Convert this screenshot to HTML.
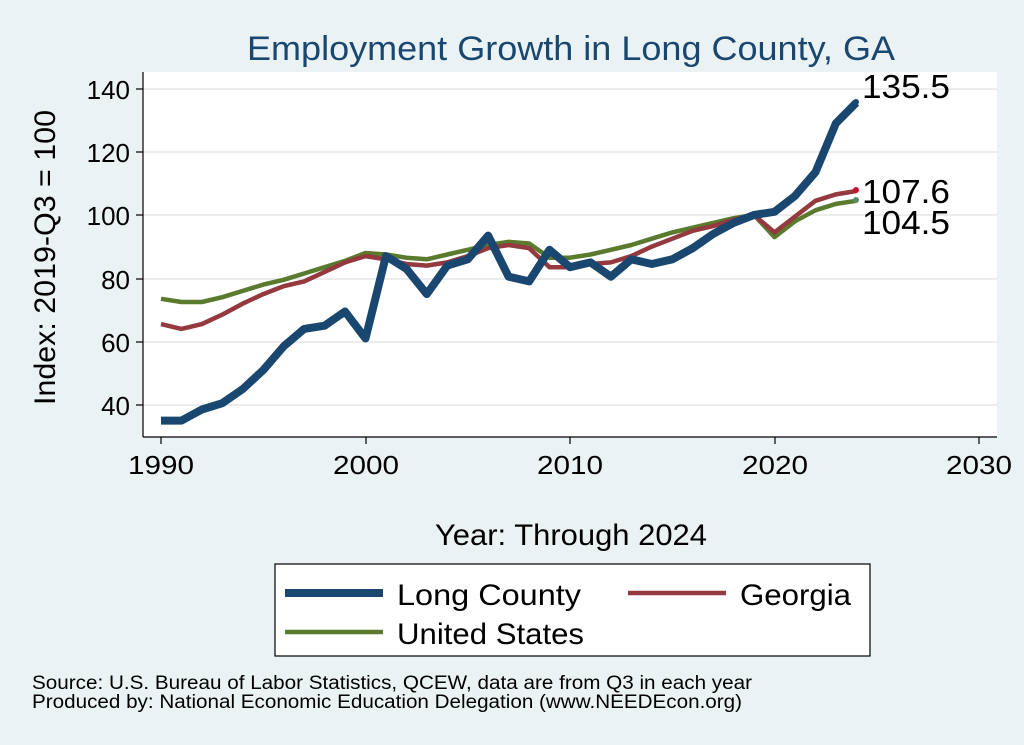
<!DOCTYPE html>
<html><head><meta charset="utf-8"><style>
html,body{margin:0;padding:0;background:#eaf2f3;}
svg{display:block;font-family:"Liberation Sans",sans-serif;}
</style></head><body>
<svg width="1024" height="745" viewBox="0 0 1024 745" xmlns="http://www.w3.org/2000/svg">
<rect width="1024" height="745" fill="#eaf2f3"/>
<rect x="143" y="72" width="854" height="365" fill="#fff"/>
<text x="247" y="60" textLength="648" lengthAdjust="spacingAndGlyphs" font-size="34" fill="#1a476f">Employment Growth in Long County, GA</text>
<g stroke="#e6e6e6" stroke-width="1.5">
<line x1="143" x2="997" y1="89" y2="89"/><line x1="143" x2="997" y1="152" y2="152"/>
<line x1="143" x2="997" y1="215" y2="215"/><line x1="143" x2="997" y1="279" y2="279"/>
<line x1="143" x2="997" y1="342" y2="342"/><line x1="143" x2="997" y1="405" y2="405"/>
</g>
<g stroke="#000" stroke-width="1.2">
<line x1="143" x2="143" y1="72" y2="437"/><line x1="143" x2="997" y1="437" y2="437"/>
<line x1="136" x2="143" y1="89" y2="89"/><line x1="136" x2="143" y1="152" y2="152"/><line x1="136" x2="143" y1="215" y2="215"/><line x1="136" x2="143" y1="279" y2="279"/><line x1="136" x2="143" y1="342" y2="342"/><line x1="136" x2="143" y1="405" y2="405"/>
<line x1="161" x2="161" y1="437" y2="444"/><line x1="366" x2="366" y1="437" y2="444"/><line x1="570" x2="570" y1="437" y2="444"/><line x1="775" x2="775" y1="437" y2="444"/><line x1="979" x2="979" y1="437" y2="444"/>
</g>
<g font-size="26" text-anchor="end">
<text x="130" y="99">140</text><text x="130" y="162">120</text><text x="130" y="225">100</text><text x="130" y="289">80</text><text x="130" y="352">60</text><text x="130" y="415">40</text>
</g>
<g font-size="26">
<text x="128" y="474" textLength="66" lengthAdjust="spacingAndGlyphs">1990</text><text x="333" y="474" textLength="66" lengthAdjust="spacingAndGlyphs">2000</text><text x="537" y="474" textLength="66" lengthAdjust="spacingAndGlyphs">2010</text><text x="742" y="474" textLength="66" lengthAdjust="spacingAndGlyphs">2020</text><text x="946" y="474" textLength="66" lengthAdjust="spacingAndGlyphs">2030</text>
</g>
<text x="435" y="545" textLength="272" lengthAdjust="spacingAndGlyphs" font-size="30">Year: Through 2024</text>
<text transform="translate(55,405) rotate(-90)" textLength="295" lengthAdjust="spacingAndGlyphs" font-size="30">Index: 2019-Q3 = 100</text>
<g fill="none" stroke-linejoin="round">
<polyline id="us" stroke="#5a7a2e" stroke-width="4.5" points=""/>
<polyline id="ga" stroke="#943a3e" stroke-width="4.5" points=""/>
<polyline id="lc" stroke="#1a476f" stroke-width="8" points=""/>
</g>
<circle cx="856" cy="102" r="3" fill="#1a476f"/>
<circle cx="856" cy="190" r="3" fill="#c8102e"/>
<circle cx="856" cy="200" r="3" fill="#5a8a6e"/>
<g font-size="33"><text x="862" y="98" textLength="88" lengthAdjust="spacingAndGlyphs">135.5</text><text x="862" y="203" textLength="88" lengthAdjust="spacingAndGlyphs">107.6</text><text x="862" y="234" textLength="88" lengthAdjust="spacingAndGlyphs">104.5</text></g>
<rect x="275" y="564" width="595" height="92" fill="#fff" stroke="#000" stroke-width="1.2"/>
<line x1="285" x2="383" y1="593" y2="593" stroke="#1a476f" stroke-width="8"/>
<text x="397" y="605" font-size="30" textLength="184" lengthAdjust="spacingAndGlyphs">Long  County</text>
<line x1="628" x2="726" y1="593" y2="593" stroke="#943a3e" stroke-width="4.5"/>
<text x="740" y="605" font-size="30" textLength="111" lengthAdjust="spacingAndGlyphs">Georgia</text>
<line x1="285" x2="383" y1="632" y2="632" stroke="#5a7a2e" stroke-width="4.5"/>
<text x="397" y="644" font-size="30" textLength="187" lengthAdjust="spacingAndGlyphs">United States</text>
<text x="32" y="689" font-size="19" textLength="720" lengthAdjust="spacingAndGlyphs">Source: U.S. Bureau of Labor Statistics, QCEW, data are from Q3 in each year</text>
<text x="32" y="708" font-size="19" textLength="710" lengthAdjust="spacingAndGlyphs">Produced by: National Economic Education Delegation (www.NEEDEcon.org)</text>
</svg>
<script>
const lc=[35,35,38.5,40.5,45,51,58.5,64,65,69.5,61,87,83,75,84,86,93.5,80.5,79,89,83.5,85,80.5,86,84.5,86,89.5,94,97.5,100,101,106,113.5,129,135.5];
const ga=[65.5,64,65.5,68.5,72,75,77.5,79,82,85,87,86,84.5,84,85,87,89.5,90.5,89.5,83.5,83.5,84.5,85,87,90,92.5,95,96.5,98.5,100,94.5,99.5,104.5,106.5,107.6];
const us=[73.5,72.5,72.5,74,76,78,79.5,81.5,83.5,85.5,88,87.5,86.5,86,87.5,89,90.5,91.5,91,86.5,86.5,87.5,89,90.5,92.5,94.5,96,97.5,99,100,93,98,101.5,103.5,104.5];
function pts(a){return a.map((v,i)=>(161+i*20.45).toFixed(1)+","+(215-(v-100)*3.163).toFixed(1)).join(" ");}
document.getElementById("lc").setAttribute("points",pts(lc));
document.getElementById("ga").setAttribute("points",pts(ga));
document.getElementById("us").setAttribute("points",pts(us));
</script>
</body></html>
